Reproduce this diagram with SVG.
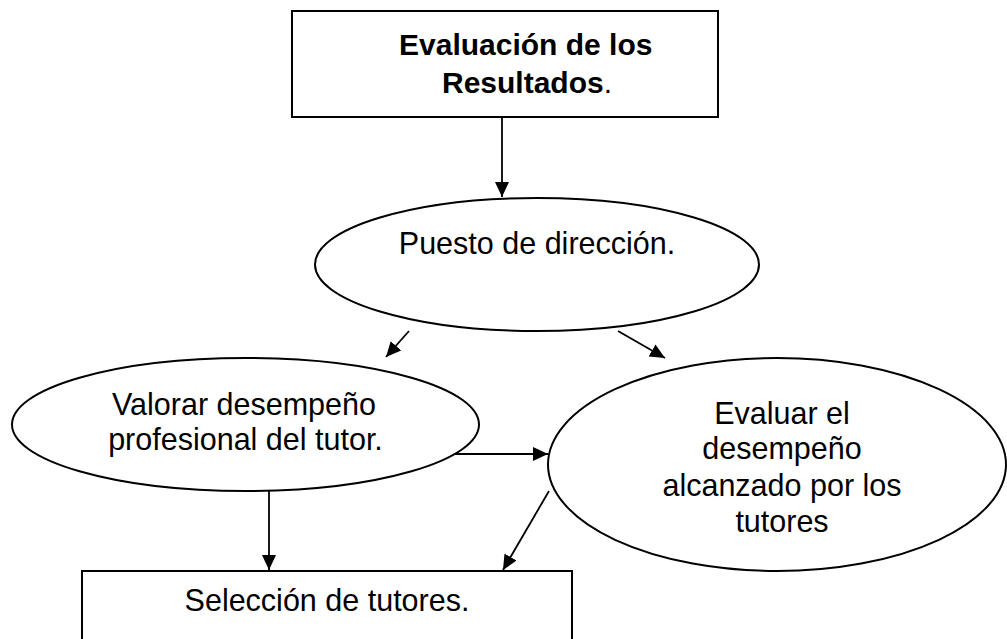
<svg xmlns="http://www.w3.org/2000/svg" width="1007" height="639" viewBox="0 0 1007 639">
<style>
.shape{fill:#fff;stroke:#000;stroke-width:2}
.t{font-family:"Liberation Sans",Arial,sans-serif;font-size:30.5px;fill:#000}
.b{font-weight:bold}
.c{stroke:#000;stroke-width:1.8;fill:none;marker-end:url(#ah)}
</style>
<defs>
<marker id="ah" markerUnits="userSpaceOnUse" markerWidth="16" markerHeight="16" viewBox="0 0 16 16" refX="15" refY="8" orient="auto">
<path d="M0,1 L15,8 L0,15 Z" fill="#000"/>
</marker>
</defs>
<rect width="1007" height="639" fill="#fff"/>
<g id="n-evaluacion">
<rect class="shape" x="292" y="11" width="426" height="106"/>
<text class="t" x="399" y="55" style="font-size:30px"><tspan class="b">Evaluación de los</tspan></text>
<text class="t" x="442" y="93" style="font-size:30px"><tspan class="b">Resultados</tspan>.</text>
</g>
<g id="n-puesto">
<ellipse class="shape" cx="537" cy="264.5" rx="222" ry="66.5"/>
<text class="t" x="537" y="254" text-anchor="middle">Puesto de dirección.</text>
</g>
<g id="n-valorar">
<ellipse class="shape" cx="245.5" cy="424.5" rx="233.5" ry="66.5"/>
<text class="t" x="244" y="415" text-anchor="middle">Valorar desempeño</text>
<text class="t" x="245.5" y="450" text-anchor="middle">profesional del tutor.</text>
</g>
<g id="n-evaluar">
<ellipse class="shape" cx="777" cy="464.5" rx="229" ry="106.5"/>
<text class="t" x="782" y="424" text-anchor="middle">Evaluar el</text>
<text class="t" x="782" y="459" text-anchor="middle">desempeño</text>
<text class="t" x="782" y="496" text-anchor="middle">alcanzado por los</text>
<text class="t" x="782" y="532" text-anchor="middle">tutores</text>
</g>
<g id="n-seleccion">
<path class="shape" d="M82,640 L82,571 L572,571 L572,640"/>
<text class="t" x="327" y="611" text-anchor="middle">Selección de tutores.</text>
</g>
<g id="connectors">
<line class="c" x1="502" y1="117" x2="502" y2="197"/>
<line class="c" x1="409" y1="331" x2="386" y2="357"/>
<line class="c" x1="618" y1="331" x2="665" y2="358"/>
<line class="c" x1="455" y1="454" x2="548" y2="454"/>
<line class="c" x1="269" y1="491" x2="269" y2="570"/>
<line class="c" x1="549" y1="491" x2="503" y2="570"/>
</g>
</svg>
